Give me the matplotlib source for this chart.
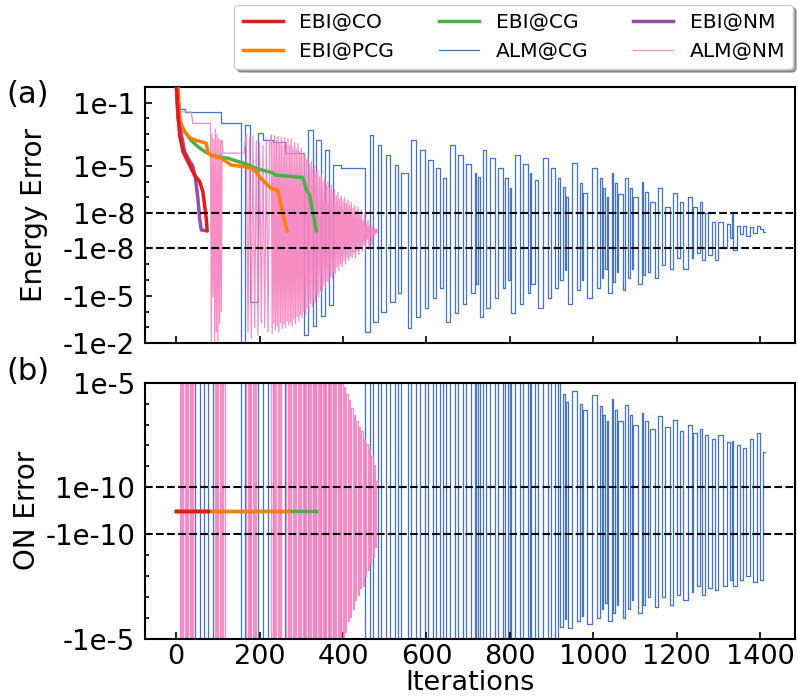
import matplotlib
matplotlib.use("Agg")
import matplotlib.pyplot as plt
from matplotlib.ticker import FixedLocator
import numpy as np

# ---------------- data ----------------
# EBI runs: energy error vs iteration
co_it = [0, 4, 8, 16, 28, 44, 56, 64, 68, 72, 74]
co_energy = [1.3, 2.6e-2, 8.7e-4, 8e-5, 1.8e-5, 2.5e-6, 1e-6, 2.2e-7, 3.2e-8, 7e-9, 1e-10]

nmebi_it = [0, 4, 12, 20, 32, 40, 46, 52, 56, 60, 66, 72]
nmebi_energy = [1.5, 1e-2, 1e-3, 8e-5, 2e-5, 9e-6, 1.6e-6, 8e-8, 7e-9, 5e-10, 2e-10, 1e-10]

pcg_it = [0, 4, 8, 14, 20, 32, 44, 60, 72, 76, 90, 108, 132, 164, 188, 200, 214, 228, 244, 252, 260, 266]
pcg_energy = [3, 1.2, 1e-2, 3e-3, 1.4e-3, 6e-4, 4.3e-4, 3.3e-4, 2.6e-4, 6.3e-5, 4e-5, 3e-5, 1.1e-5,
              8.7e-6, 5.4e-6, 2e-6, 8e-7, 3.7e-7, 2.9e-7, 2.5e-8, 5e-9, 1e-10]

cgebi_it = [0, 4, 10, 20, 36, 52, 68, 84, 104, 124, 144, 164, 192, 210, 228, 240, 270, 304, 312, 320, 328, 336]
cgebi_energy = [3, 1e-1, 5e-3, 1.4e-3, 4e-4, 1.6e-4, 8e-5, 4.8e-5, 3.5e-5, 3e-5, 2e-5, 1.4e-5, 6.8e-6,
                5e-6, 3.8e-6, 2.5e-6, 2.2e-6, 1.8e-6, 3e-7, 1.4e-7, 1e-8, 1e-10]

# EBI orthonormality error stays ~0, last iteration of each run
ebi_on_end = {"co": 76, "pcg": 268, "cg": 336, "nm": 72}

# ALM@CG: step changes (iteration, energy error, ON error)
cg_it = [0, 10, 20, 46, 56, 66, 76, 88, 108, 156, 164, 176, 196, 208, 220, 232, 260,
         306, 316, 328, 336, 346, 356, 366, 376, 396,
         452, 464, 472, 484, 492, 504, 512, 524, 532, 540,
         556, 564, 576, 584, 596, 604, 616, 624, 632, 640,
         648, 656, 668, 676, 688, 696, 708, 716, 720, 724,
         728, 736, 744, 752, 764, 772, 784, 788, 796, 800,
         804, 812, 824, 832, 844, 848, 852, 860,
         868, 880, 892, 900, 908, 916, 920, 928, 932, 936,
         940, 948, 960, 968, 972, 976,
         984, 996, 1008, 1016, 1020, 1024, 1028, 1032,
         1036, 1044, 1048, 1052, 1056, 1060,
         1072, 1076, 1084, 1088, 1092, 1096,
         1108, 1116, 1120, 1124, 1132, 1136,
         1148, 1156, 1164, 1172, 1184, 1192, 1200, 1208,
         1216, 1228, 1236, 1240, 1248, 1256, 1260, 1268, 1276, 1284, 1292, 1300,
         1312, 1320, 1328, 1332, 1336, 1344, 1352, 1360, 1366, 1376, 1384, 1392, 1400, 1408, 1412]
cg_energy = [9e-2, 4e-2, 2.6e-2, 2.6e-2, 2.6e-2, 2.6e-2, 2.6e-2, 2.6e-2, 5e-3, -9e-3, 4e-3, -2.5e-5,
             1.2e-3, 4e-4, 4e-4, 3e-4, 6e-5,
             -3e-3, 1.8e-3, -8e-4, 4.3e-4, -2e-4, 1e-4, -4e-5, 1.1e-5, 7e-6,
             -1.9e-3, 8.7e-4, -4.5e-4, 2e-4, -1e-4, 4.8e-5, -2.5e-5, 1.1e-5, -7e-6, 3.3e-6,
             -1.1e-3, 4.3e-4, -2.1e-4, 1e-4, -5.8e-5, 2.3e-5, -1.4e-5, 6.8e-6, -3.4e-6, 1.6e-6,
             -4.5e-4, 2e-4, -1.3e-4, 4.8e-5, -3.2e-5, 1.3e-5, -7e-6, 3.3e-6, -1.7e-6, 2e-6,
             -2.1e-4, 1e-4, -5.8e-5, 2.9e-5, -1.4e-5, 6.8e-6, -3.4e-6, 1.6e-6, -1e-6, 3.7e-7,
             -1.3e-4, 5e-5, -3.2e-5, 1.3e-5, -7e-6, 3.3e-6, -1.7e-6, 1.3e-6,
             -5.8e-5, 2.9e-5, -1.4e-5, 6.8e-6, -3.4e-6, 1.6e-6, -1e-6, 4.7e-7, -2.5e-7, 1.1e-7,
             -3.2e-5, 1.4e-5, -4.4e-6, 8e-7, -1e-6, 1.8e-7,
             -1.4e-5, 6.8e-6, -3.4e-6, 1.6e-6, -8e-7, 3.7e-7, -1.9e-7, 1.1e-7,
             -7e-6, 3.3e-6, -1.3e-6, 8e-7, -3.2e-7, 1.6e-7,
             -4.4e-6, 1.6e-6, -8e-7, 3.7e-7, -2e-7, 1.1e-7,
             -1.7e-6, 1e-6, -5e-7, 2.2e-7, -3.2e-7, 5.2e-8,
             -8e-7, 3.7e-7, -1.1e-7, 2.5e-8, -1.9e-7, 2e-7, -4.3e-8, 5.2e-8,
             -1.9e-7, 1e-7, -4e-8, 2.5e-8, -2.1e-8, 5e-8, -5.5e-8, 1e-8, -2.5e-8, 5e-9, -5.5e-8, 5e-9,
             -1e-8, 4e-9, -4e-9, 1.2e-8, -1.2e-8, 3e-9, -2e-9, 3e-9, -3e-9, 2e-9, -1e-9, 3e-9, 1e-9, -5e-10, -5e-10]
cg_on = [1e-4, 1e-4, 1e-4, -1e-4, 1e-4, -1e-4, 1e-4, -1e-4, -1e-4, 1e-4, -1e-4, 1e-4,
         -1e-4, 1e-4, -1e-4, 1e-4, -1e-4,
         1e-4, -1e-4, 1e-4, -1e-4, 1e-4, -1e-4, 1e-4, -1e-4, 1e-4,
         -1e-4, 1e-4, -1e-4, 1e-4, -1e-4, 1e-4, -1e-4, 1e-4, -1e-4, 1e-4,
         -1e-4, 1e-4, -1e-4, 1e-4, -1e-4, 1e-4, -1e-4, 1e-4, -1e-4, 1e-4,
         -1e-4, 1e-4, -1e-4, 1e-4, -1e-4, 1e-4, -1e-4, 1e-4, -1e-4, 1e-4,
         -1e-4, 1e-4, -1e-4, 1e-4, -1e-4, 1e-4, -1e-4, 1e-4, -1e-4, 1e-4,
         -1e-4, 1e-4, -1e-4, 1e-4, -1e-4, 1e-4, -1e-4, 1e-4,
         -1e-4, 1e-4, -1e-4, 1e-4, -1e-4, 1e-4, -2.7e-6, 3e-6, -1.2e-6, 1.2e-6,
         -3e-6, 4e-6, -1.5e-6, 1e-6, -8e-7, 5e-7,
         -2e-6, 2.5e-6, -1e-6, 8e-7, -4e-7, 3e-7, -2e-7, 1.5e-7,
         -1.5e-6, 1.6e-6, -6e-7, 5e-7, -2.5e-7, 1.5e-7,
         -1e-6, 9e-7, -4e-7, 3e-7, -1.5e-7, 1e-7,
         -6e-7, 3.4e-7, -2.5e-7, 1.5e-7, -1e-7, 6e-8,
         -3e-7, 2.5e-7, -1e-7, 8e-8, -2.5e-7, 1.6e-7, -8e-8, 5e-8,
         -1.5e-7, 1e-7, -6e-8, 4e-8, -3e-8, 6e-8, -8e-8, 3e-8, -4e-8, 2e-8, -5e-8, 3e-8,
         -3e-8, 1.5e-8, -1.5e-8, 1.6e-8, -3e-8, 1e-8, -1.5e-8, 8e-9, -1e-8, 2e-8, -2e-8, 4e-8, -1.5e-8, 5e-9, 5e-9]

# ALM@NM energy error
nm_it = [0, 6, 12, 36, 40, 82,
         84, 86, 88, 90, 92, 94, 96, 98, 100, 102, 104, 106, 108, 110, 112, 162,
         168, 172, 176, 180, 184, 188, 192, 196, 200, 204, 208, 212, 216, 220, 224,
         228, 230, 232, 234, 236, 238, 240, 242, 244, 246, 248, 250, 252, 254, 256, 258,
         260, 262, 264, 266, 268, 270, 272, 274, 276, 278, 280, 282, 284, 286, 288, 290,
         292, 294, 296, 298, 300, 302, 304, 306, 308, 310, 312, 314, 316, 318, 320, 322,
         324, 326, 328, 330, 332, 334, 336, 338, 340, 342, 344, 346, 348, 350, 352, 354,
         356, 358, 360, 362, 364, 366, 368, 370, 372, 374, 376, 378, 380, 382, 384, 386,
         388, 390, 392, 394, 396, 398, 400, 402, 404, 406, 408, 410, 412, 414, 416, 418,
         420, 422, 424, 426, 428, 430, 432, 434, 436, 438, 440, 442, 444, 446, 448, 450,
         452, 454, 456, 458, 460, 462, 464, 466, 468, 470, 472, 474, 476, 478, 480, 482, 484]
nm_energy = [6e-2, 3e-2, 2.6e-2, 2.5e-2, 4.8e-3, 4.7e-3,
             -1e-2, 1e-3, -1.2e-5, 5e-4, -1e-2, 2e-3, -2e-3, 1e-3, -1e-2, 5e-4, -6e-4, 4e-4, -1e-4, 4e-4, 6.3e-5, 6.3e-5,
             1e-3, -2e-3, 6e-4, -5e-3, 8e-4, -1e-3, 4e-4, -3e-3, 3e-4, -5e-4, 2e-4, -1e-3, 5e-4, -2e-3, 3e-4,
             9e-4, -2.5e-3, 3e-4, -6e-4, 8e-4, -1.5e-3, 4e-4, -8e-4, 7e-4, -2e-3, 3e-4, -5e-4, 6e-4, -1.2e-3, 2e-4, -6e-4,
             6e-4, -1e-3, 3e-4, -4e-4, 5e-4, -7e-4, 2e-4, -5e-4, 5e-4, -8e-4, 1.5e-4, -3e-4, 3e-4, -6e-4, 1e-4, -2e-4,
             2.5e-4, -4e-4, 8e-5, -1.5e-4, 1.2e-4, -2.5e-4, 5e-5, -1e-4, 6e-5, -1.6e-4, 2.5e-5, -6e-5, 3e-5, -9e-5, 1.2e-5, -3e-5,
             1.8e-5, -5e-5, 8e-6, -2e-5, 1e-5, -2.5e-5, 4e-6, -8e-6, 5e-6, -1.2e-5, 2e-6, -5e-6, 3e-6, -5.6e-6, 1e-6, -2e-6,
             1.5e-6, -3e-6, 6e-7, -1.2e-6, 1e-6, -1.5e-6, 4e-7, -6e-7, 6e-7, -8e-7, 2e-7, -3e-7, 3e-7, -4e-7, 1.2e-7, -1.5e-7,
             2e-7, -2.5e-7, 8e-8, -1e-7, 1.2e-7, -1.5e-7, 6e-8, -6e-8, 1e-7, -1e-7, 4e-8, -4e-8, 7e-8, -6e-8, 3e-8, -3e-8,
             5e-8, -4e-8, 2e-8, -2e-8, 3e-8, -4e-8, 1.5e-8, -1.5e-8, 2.5e-8, -2.5e-8, 1e-8, -1e-8, 1.5e-8, -1.5e-8, 6e-9, -8e-9,
             1e-8, -1.2e-8, 4e-9, -5e-9, 6e-9, -1e-8, 3e-9, -4e-9, 3e-9, -8e-9, 2e-9, -3e-9, 1.5e-9, -2e-9, 1e-9, -1e-9, 5e-10]

# ALM@NM orthonormality error (steps)
nm_on_it = [0, 8, 11, 14, 17, 20, 23, 26, 29, 32, 35, 38, 41,
            92, 95, 98, 101, 104, 107, 110, 113, 116,
            168, 171, 174, 177, 180, 183, 186, 189, 192,
            228, 231, 234, 237, 240, 243, 246, 249, 252,
            264, 267, 270, 273, 276, 279, 282, 285, 288, 291, 294, 297, 300, 303, 306,
            309, 312, 315, 318, 321, 324, 327, 330, 333, 336, 339, 342, 345, 348, 351,
            354, 357, 360, 363, 366, 369, 372, 375, 378, 381, 384, 387, 390, 393,
            396, 399, 402, 405, 408, 411, 414, 417, 420, 423, 426, 429, 432, 435, 438,
            441, 444, 447, 450, 453, 456, 459, 462, 465, 468, 471, 474, 477, 480, 483]
nm_on = [1e-4, -1e-4, 1e-4, -1e-4, 1e-4, -1e-4, 1e-4, -1e-4, 1e-4, -1e-4, 1e-4, -1e-4, 1e-4,
         -1e-4, 1e-4, -1e-4, 1e-4, -1e-4, 1e-4, -1e-4, 1e-4, -1e-4,
         1e-4, -1e-4, 1e-4, -1e-4, 1e-4, -1e-4, 1e-4, -1e-4, 1e-4,
         -1e-4, 1e-4, -1e-4, 1e-4, -1e-4, 1e-4, -1e-4, 1e-4, -1e-4,
         1e-4, -1e-4, 1e-4, -1e-4, 1e-4, -1e-4, 1e-4, -1e-4, 1e-4, -1e-4, 1e-4, -1e-4, 1e-4, -1e-4, 1e-4,
         -1e-4, 1e-4, -1e-4, 1e-4, -1e-4, 1e-4, -1e-4, 1e-4, -1e-4, 1e-4, -1e-4, 1e-4, -1e-4, 1e-4, -1e-4,
         1e-4, -1e-4, 1e-4, -1e-4, 1e-4, -1e-4, 1e-4, -1e-4, 1e-4, -1e-4, 1e-4, -1e-4, 1e-4, -1e-4,
         1.2e-5, -1e-5, 6e-6, -5e-6, 3e-6, -1.5e-6, 1.5e-6, -9e-7, 6e-7, -4e-7, 3e-7, -1.5e-7, 1.5e-7, -8e-8, 8e-8,
         -4e-8, 4.7e-8, -3e-8, 2e-8, -1e-8, 1.2e-8, -5e-9, 7e-9, -2.5e-9, 3e-9, -1.2e-9, 1.2e-9, -4e-10, 2e-10, 1e-10]

# axis ticks
top_major = [1e-1, 1e-5, 1e-8, -1e-8, -1e-5, -1e-2]
top_labels = ["1e-1", "1e-5", "1e-8", "-1e-8", "-1e-5", "-1e-2"]
top_minor = [1e-2, 1e-3, 1e-4, 1e-6, 1e-7, -1e-7, -1e-6, -1e-4, -1e-3]
bot_major = [1e-5, 1e-10, -1e-10, -1e-5]
bot_labels = ["1e-5", "1e-10", "-1e-10", "-1e-5"]
bot_minor = [1e-6, 1e-7, 1e-8, 1e-9, -1e-9, -1e-8, -1e-7, -1e-6]
x_ticks = [0, 200, 400, 600, 800, 1000, 1200, 1400]

c_red = "#e41a1c"
c_orange = "#ff7f00"
c_green = "#4daf4a"
c_purple = "#984ea3"
c_blue = "#4472c4"
c_pink = "#f781bf"

plt.rcParams["font.family"] = "DejaVu Sans"

fig = plt.figure(figsize=(7.98, 6.98), dpi=100)
ax1 = fig.add_axes([0.1817, 0.5082, 0.8145, 0.3676])
ax2 = fig.add_axes([0.1817, 0.0850, 0.8145, 0.3668], sharex=ax1)


def setup(ax, linthresh, ylim, major, labels, minor):
    ax.set_yscale("symlog", linthresh=linthresh, linscale=1)
    ax.set_ylim(*ylim)
    ax.set_yticks(major)
    ax.set_yticklabels(labels)
    ax.yaxis.set_minor_locator(FixedLocator(minor))
    ax.tick_params(which="both", direction="in", labelsize=20, width=1.2)
    ax.tick_params(which="major", length=5, pad=7)
    ax.tick_params(which="minor", length=3)
    for s in ax.spines.values():
        s.set_linewidth(1.5)
    ax.axhline(linthresh, color="k", ls="--", lw=1.5, zorder=10)
    ax.axhline(-linthresh, color="k", ls="--", lw=1.5, zorder=10)


setup(ax1, 1e-8, (-1e-2, 1e0), top_major, top_labels, top_minor)
setup(ax2, 1e-10, (-1e-5, 1e-5), bot_major, bot_labels, bot_minor)

# (a) energy error
ax1.step(cg_it, cg_energy, where="post", color=c_blue, lw=0.9, zorder=1)
ax1.plot(nm_it, nm_energy, color=c_pink, lw=0.9, alpha=0.9, zorder=2)
ax1.plot(cgebi_it, cgebi_energy, color=c_green, lw=2.5, zorder=3)
ax1.plot(pcg_it, pcg_energy, color=c_orange, lw=2.5, zorder=4)
ax1.plot(nmebi_it, nmebi_energy, color=c_purple, lw=2.5, zorder=5)
ax1.plot(co_it, co_energy, color=c_red, lw=2.5, zorder=6)

# (b) orthonormality error
l_cg, = ax2.step(cg_it, cg_on, where="post", color=c_blue, lw=0.9, zorder=1)
l_nm, = ax2.step(nm_on_it, nm_on, where="post", color=c_pink, lw=0.9, alpha=0.9, zorder=2)
l_g, = ax2.plot([0, ebi_on_end["cg"]], [0, 0], color=c_green, lw=2.5, zorder=3)
l_o, = ax2.plot([0, ebi_on_end["pcg"]], [0, 0], color=c_orange, lw=2.5, zorder=4)
l_p, = ax2.plot([0, ebi_on_end["nm"]], [0, 0], color=c_purple, lw=2.5, zorder=5)
l_r, = ax2.plot([0, ebi_on_end["co"]], [0, 0], color=c_red, lw=2.5, zorder=6)

ax2.set_xlim(-75, 1484)
ax2.set_xticks(x_ticks)
ax1.tick_params(axis="x", labelbottom=False)
ax2.tick_params(axis="x", labelsize=19.5, pad=4)
ax2.set_xlabel("Iterations", fontsize=19.5, labelpad=0)

ax1.set_ylabel("Energy Error", fontsize=20)
ax2.set_ylabel("ON Error", fontsize=20)
ax1.yaxis.set_label_coords(-0.15, 0.5)
ax2.yaxis.set_label_coords(-0.16, 0.5)

fig.text(0.008, 0.865, "(a)", fontsize=22, va="center")
fig.text(0.008, 0.468, "(b)", fontsize=22, va="center")

handles = [l_r, l_o, l_g, l_cg, l_p, l_nm]
labels = ["EBI@CO", "EBI@PCG", "EBI@CG", "ALM@CG", "EBI@NM", "ALM@NM"]
fig.legend(handles, labels, ncol=3, loc="upper right", bbox_to_anchor=(0.994, 0.993),
           borderaxespad=0, fontsize=14.6, shadow=True, framealpha=1,
           columnspacing=2.2, handletextpad=0.8)

fig.savefig("out.png", dpi=100)
